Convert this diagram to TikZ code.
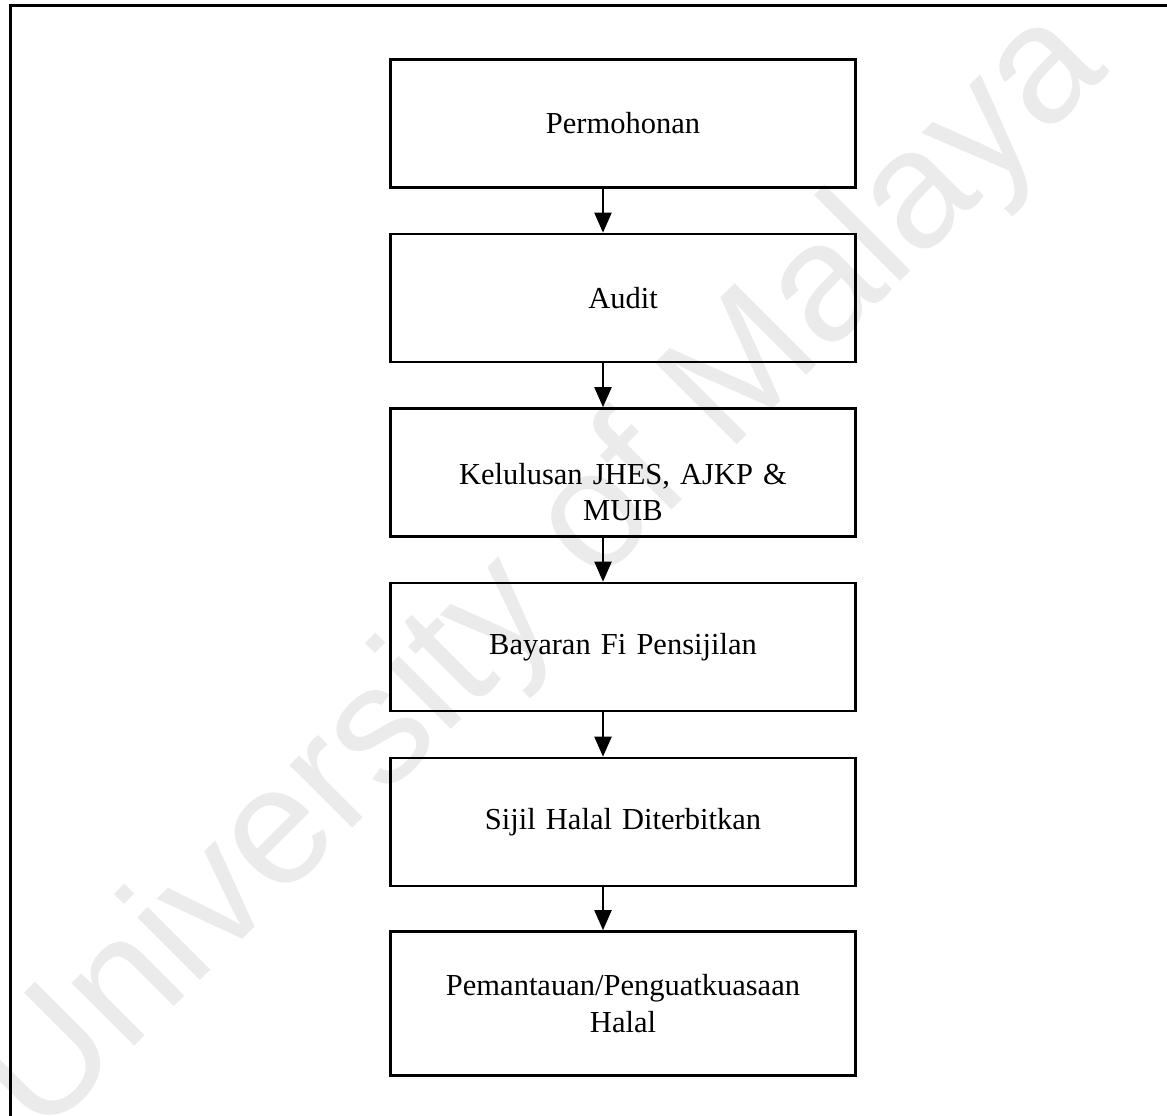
\documentclass[tikz,border=0pt]{standalone}
\usepackage{fontspec}
\setmainfont{Liberation Serif}
\newfontfamily\wmfont{Liberation Sans}
\usetikzlibrary{arrows.meta}
\begin{document}
\begin{tikzpicture}[x=1pt,y=-1pt,
  stepbox/.style={draw=black,line width=2.6pt,minimum width=465pt,minimum height=128pt,
    text width=440pt,align=center,inner sep=0pt,font=\fontsize{30.5}{36.5}\selectfont},
  flow/.style={line width=2pt,-{Triangle[length=20pt,width=17pt]}}]
\useasboundingbox (0,0) rectangle (1167,1116);
\node[rotate=45,text=black!8,font=\wmfont\fontsize{168}{170}\selectfont] (wm) at (545,575) {University of Malaya};
\draw[line width=3pt] (10,1120) -- (10,6) -- (1172,6);
\node[stepbox] (p1) at (623,123.5) {Permohonan};
\node[stepbox] (p2) at (623,298) {Audit};
\node[stepbox] (p3) at (623,472.5) {\rule{0pt}{60pt}Kelulusan JHES, AJKP \&\hspace*{12pt}\\MUIB\hspace*{12pt}};
\node[stepbox] (p4) at (623,647) {Bayaran Fi Pensijilan};
\node[stepbox] (p5) at (623,822) {Sijil Halal Diterbitkan};
\node[stepbox,minimum height=144pt] (p6) at (623,1003.5) {Pemantauan/Penguatkuasaan\\Halal};
\foreach \a/\b in {p1/p2,p2/p3,p3/p4,p4/p5,p5/p6}
  \draw[flow] (\a.south -| 603,0) -- (\b.north -| 603,0);
\end{tikzpicture}
\end{document}
